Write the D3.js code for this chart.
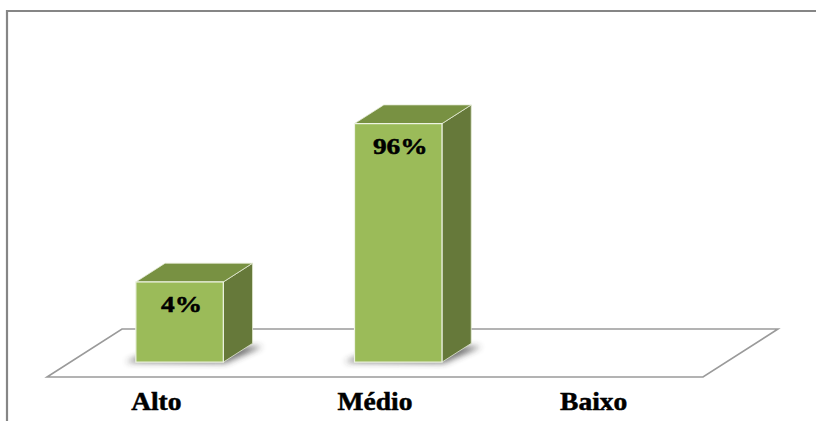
<!DOCTYPE html>
<html>
<head>
<meta charset="utf-8">
<script src="https://cdn.jsdelivr.net/npm/d3@7/dist/d3.min.js"></script>
<style>
  html, body { margin: 0; padding: 0; background: #fff; }
  svg { display: block; }
</style>
</head>
<body>
<svg id="chart" width="816" height="421"></svg>
<script>
// ---- data ----
const categories = ["Alto", "Médio", "Baixo"];
const values = [4, 96, 0];
const valueLabels = ["4%", "96%", ""];

// ---- layout ----
const W = 816, H = 421;
const svg = d3.select("#chart");
const serif = "'Liberation Serif', 'Times New Roman', Times, serif";

const floorFrontY = 377;
const floorLeft = 47, floorRight = 703;
const depth = [75, -48];          // floor depth vector (front -> back)
const d0 = 0.31, d1 = 0.70;       // bar depth position fractions

const x = d3.scaleBand().domain(categories)
  .range([floorLeft, floorRight]).paddingInner(0.6).paddingOuter(0.3);

const baseY = floorFrontY + d0 * depth[1];
const h = d3.scaleLog().domain([0.8, 96]).range([0, 238.5]);

// defs: shadow blur
const defs = svg.append("defs");
defs.append("filter").attr("id", "blur").attr("x", "-50%").attr("y", "-50%")
  .attr("width", "200%").attr("height", "200%")
  .append("feGaussianBlur").attr("stdDeviation", 3);

// chart border (left and top)
svg.append("path")
  .attr("d", `M7,${H} L7,11 L${W},11`)
  .attr("fill", "none").attr("stroke", "#868686").attr("stroke-width", 2.2);

// floor
const fl = [
  [floorLeft, floorFrontY],
  [floorRight, floorFrontY],
  [floorRight + depth[0], floorFrontY + depth[1]],
  [floorLeft + depth[0], floorFrontY + depth[1]]
];
svg.append("polygon")
  .attr("points", fl.map(p => p.join(",")).join(" "))
  .attr("fill", "#fff").attr("stroke", "#9a9a9a").attr("stroke-width", 1.6);

const bw = x.bandwidth();
const ddx = (d1 - d0) * depth[0], ddy = (d1 - d0) * depth[1];
const fx0 = d0 * depth[0];

const data = categories.map((c, i) => ({ c, v: values[i], lab: valueLabels[i] }));
const bars = svg.append("g").selectAll("g").data(data.filter(d => d.v > 0)).join("g");

bars.each(function (d) {
  const g = d3.select(this);
  const L = x(d.c) + fx0, R = L + bw;
  const B = baseY, T = baseY - h(d.v);
  // shadow
  g.append("polygon")
    .attr("points", [[L - 10, B], [R + 2, B + 1], [R + ddx + 10, B + ddy + 3], [L + ddx - 2, B + ddy + 3]].map(p => p.join(",")).join(" "))
    .attr("fill", "#333").attr("opacity", 0.7).attr("filter", "url(#blur)");
  // side
  g.append("polygon")
    .attr("points", [[R, B], [R + ddx, B + ddy], [R + ddx, T + ddy], [R, T]].map(p => p.join(",")).join(" "))
    .attr("fill", "#66793a").attr("stroke", "#e4ebd6").attr("stroke-width", 0.8).attr("stroke-linejoin", "round");
  // top
  g.append("polygon")
    .attr("points", [[L, T], [R, T], [R + ddx, T + ddy], [L + ddx, T + ddy]].map(p => p.join(",")).join(" "))
    .attr("fill", "#789142").attr("stroke", "#e4ebd6").attr("stroke-width", 0.8).attr("stroke-linejoin", "round");
  // front
  g.append("rect")
    .attr("x", L).attr("y", T).attr("width", bw).attr("height", B - T)
    .attr("fill", "#9bbb59").attr("stroke", "#eef3e4").attr("stroke-width", 1.2);
  // value label
  g.append("text")
    .attr("transform", `translate(${L + bw / 2 + 2},${T + 30}) scale(1.14,1)`)
    .attr("text-anchor", "middle")
    .attr("font-family", serif)
    .attr("font-weight", "bold").attr("font-size", 24).attr("fill", "#000")
    .attr("stroke", "#000").attr("stroke-width", 0.5)
    .text(d.lab);
});

// category labels
svg.append("g").selectAll("text").data(categories).join("text")
  .attr("transform", d => `translate(${x(d) + bw / 2},410) scale(1.1,1)`)
  .attr("text-anchor", "middle")
  .attr("font-family", serif)
  .attr("font-weight", "bold").attr("font-size", 25).attr("fill", "#000")
  .attr("stroke", "#000").attr("stroke-width", 0.5)
  .text(d => d);
</script>
</body>
</html>
